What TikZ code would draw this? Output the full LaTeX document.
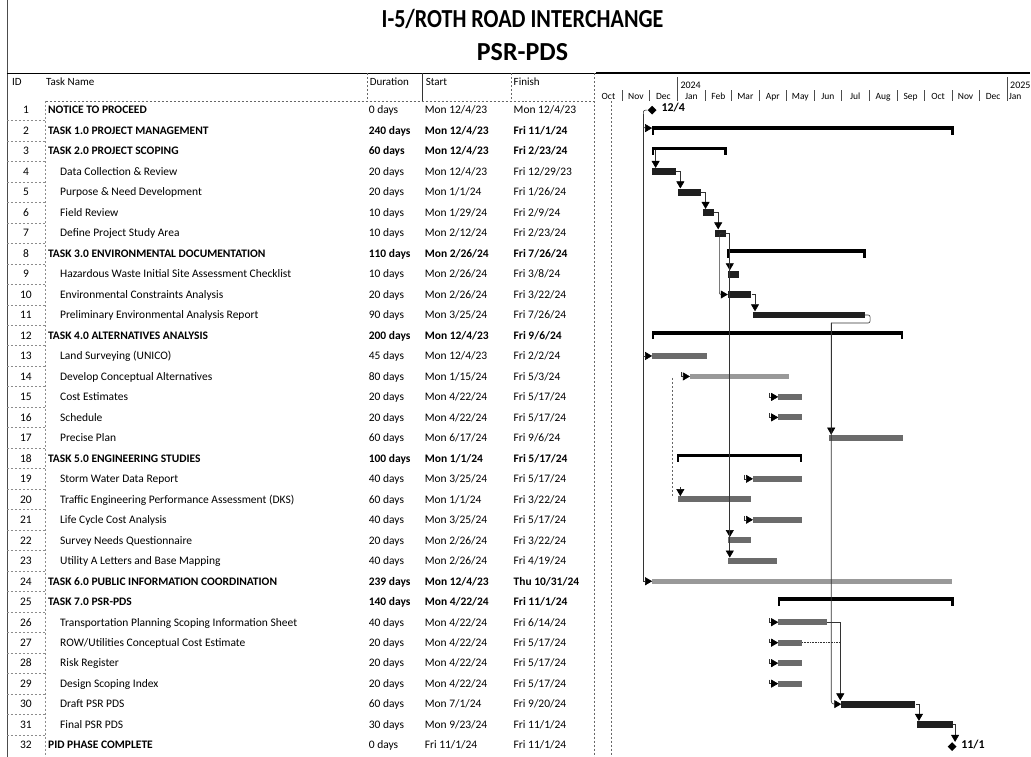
\documentclass[tikz,border=0pt]{standalone}
\usepackage{fontspec}
\setmainfont{Carlito}
\usetikzlibrary{arrows.meta,shapes.geometric,calc}
\newcommand\GBar[5]{%
  \pgfmathsetmacro\GBy{110+(#3-1)*20.5}%
  \pgfmathsetmacro\GBx{678+0.9016*(#4)}%
  \pgfmathsetmacro\GBw{0.9016*((#5)-(#4))}%
  \node[#2,minimum width=\GBw pt] (#1) at (\GBx,\GBy) {};}
\newcommand\SBar[4]{%
  \pgfmathsetmacro\GBy{110+(#2-1)*20.5-4.5}%
  \pgfmathsetmacro\GBx{678+0.9016*(#3)}%
  \pgfmathsetmacro\GBw{0.9016*((#4)-(#3))}%
  \node[sumbar,minimum width=\GBw pt] (#1) at (\GBx,\GBy) {};
  \fill ([xshift=-0.4pt]#1.north west) rectangle ++(2.4,8.5);
  \fill ([xshift=0.4pt]#1.north east) rectangle ++(-2.4,8.5);}
\newcommand\TRow[5]{%
  \pgfmathsetmacro\TRy{110+(#1-1)*20.5+3.8}%
  \node[idtxt] (id#1) at (26,\TRy) {#1};
  \node[txt] (nm#1) at (60,\TRy) {#2};
  \node[txt] (du#1) at (369,\TRy) {#3};
  \node[txt] (st#1) at (425,\TRy) {#4};
  \node[txt] (fi#1) at (514,\TRy) {#5};}
\newcommand\SRow[5]{%
  \pgfmathsetmacro\TRy{110+(#1-1)*20.5+3.8}%
  \node[idtxt] (id#1) at (26,\TRy) {#1};
  \node[btxt] (nm#1) at (48,\TRy) {#2};
  \node[btxt] (du#1) at (369,\TRy) {#3};
  \node[btxt] (st#1) at (425,\TRy) {#4};
  \node[btxt] (fi#1) at (514,\TRy) {#5};}
\newcommand\MRow[5]{%
  \pgfmathsetmacro\TRy{110+(#1-1)*20.5+3.8}%
  \node[idtxt] (id#1) at (26,\TRy) {#1};
  \node[btxt] (nm#1) at (48,\TRy) {#2};
  \node[txt] (du#1) at (369,\TRy) {#3};
  \node[txt] (st#1) at (425,\TRy) {#4};
  \node[txt] (fi#1) at (514,\TRy) {#5};}
\begin{document}
\begin{tikzpicture}[x=1pt,y=-1pt,
  txt/.style={anchor=base west,inner sep=0pt,font=\fontsize{11.5}{13}\selectfont},
  btxt/.style={anchor=base west,inner sep=0pt,font=\fontsize{11.5}{13}\selectfont\bfseries},
  idtxt/.style={anchor=base,inner sep=0pt,font=\fontsize{11.5}{13}\selectfont},
  hdr/.style={anchor=base west,inner sep=0pt,font=\fontsize{11}{13}\selectfont},
  mon/.style={anchor=base,inner sep=0pt,font=\fontsize{9.5}{11}\selectfont},
  crit/.style={draw=none,fill=black!88,minimum height=7pt,inner sep=0pt,anchor=west},
  norm/.style={draw=none,fill=black!58,minimum height=6pt,inner sep=0pt,anchor=west},
  lite/.style={draw=none,fill=black!40,minimum height=5pt,inner sep=0pt,anchor=west},
  sumbar/.style={fill=black,minimum height=3.4pt,inner sep=0pt,anchor=north west},
  mile/.style={diamond,fill=black,inner sep=0pt,minimum size=9pt},
  link/.style={draw=black!80,line width=0.6pt},
  arr/.style={link,-{Triangle[width=8pt,length=7pt,fill=black,color=black]}},
  grid/.style={draw=black!60,line width=0.5pt,dash pattern=on 2pt off 2pt},
]
\fill[white] (0,0) rectangle (1031,757);
% title
\node[font=\fontsize{26}{28}\selectfont\bfseries,inner sep=0pt] (title) at (523,19) {\scalebox{0.85}[1]{I-5/ROTH ROAD INTERCHANGE}};
\node[font=\fontsize{26}{28}\selectfont\bfseries,inner sep=0pt] (sub) at (523,52) {PSR-PDS};
% frame lines
\draw[black!70,line width=0.6pt] (7,0) -- (7,757);
\draw[line width=1.2pt] (7,73) -- (597,73);
\draw[line width=2pt] (597,73) -- (1031,73);
\draw[grid] (368,73) -- (368,101);
\draw[black!80,line width=0.6pt] (423,73) -- (423,101);
\draw[grid] (512,73) -- (512,101);
\draw[grid] (46,101) -- (597,101);
\draw[grid] (595,73) -- (595,757);
\draw[grid] (612,101) -- (612,757);
\draw[grid,draw=black!45] (45,101) -- (45,757);
\foreach \i in {1,...,31} \draw[grid,draw=black!45] (7,{110+(\i-0.5)*20.5}) -- (45,{110+(\i-0.5)*20.5});
% header
\node[hdr] (hid) at (12,85.5) {ID};
\node[hdr] (htn) at (46,85.5) {Task Name};
\node[hdr] (hdu) at (370,85.5) {Duration};
\node[hdr] (hst) at (426,85.5) {Start};
\node[hdr] (hfi) at (514,85.5) {Finish};
% timescale
\node[anchor=base west,inner sep=0pt,font=\fontsize{10}{12}\selectfont] (y24) at (681,88) {2024};
\node[anchor=base west,inner sep=0pt,font=\fontsize{10}{12}\selectfont] (y25) at (1011,88) {2025};
\draw[black!70,line width=0.5pt] ({678},77) -- ({678},101);
\draw[black!70,line width=0.5pt] ({678+0.9016*366},77) -- ({678+0.9016*366},101);
\foreach \d in {-61,-31,31,60,91,121,152,182,213,244,274,305,335}
  \draw[black!70,line width=0.5pt] ({678+0.9016*\d},90) -- ({678+0.9016*\d},101);
\foreach \d/\m [count=\k] in {-76.5/Oct,-46/Nov,-15.5/Dec,15.5/Jan,45.5/Feb,75.5/Mar,106/Apr,136.5/May,167/Jun,197.5/Jul,228.5/Aug,259/Sep,289.5/Oct,320/Nov,350.5/Dec,375/Jan}
  \node[mon] (mo\k) at ({678+0.9016*\d},99) {\m};
% table rows
\MRow{1}{NOTICE TO PROCEED}{0 days}{Mon 12/4/23}{Mon 12/4/23}
\SRow{2}{TASK 1.0 PROJECT MANAGEMENT}{240 days}{Mon 12/4/23}{Fri 11/1/24}
\SRow{3}{TASK 2.0 PROJECT SCOPING}{60 days}{Mon 12/4/23}{Fri 2/23/24}
\TRow{4}{Data Collection \& Review}{20 days}{Mon 12/4/23}{Fri 12/29/23}
\TRow{5}{Purpose \& Need Development}{20 days}{Mon 1/1/24}{Fri 1/26/24}
\TRow{6}{Field Review}{10 days}{Mon 1/29/24}{Fri 2/9/24}
\TRow{7}{Define Project Study Area}{10 days}{Mon 2/12/24}{Fri 2/23/24}
\SRow{8}{TASK 3.0 ENVIRONMENTAL DOCUMENTATION}{110 days}{Mon 2/26/24}{Fri 7/26/24}
\TRow{9}{Hazardous Waste Initial Site Assessment Checklist}{10 days}{Mon 2/26/24}{Fri 3/8/24}
\TRow{10}{Environmental Constraints Analysis}{20 days}{Mon 2/26/24}{Fri 3/22/24}
\TRow{11}{Preliminary Environmental Analysis Report}{90 days}{Mon 3/25/24}{Fri 7/26/24}
\SRow{12}{TASK 4.0 ALTERNATIVES ANALYSIS}{200 days}{Mon 12/4/23}{Fri 9/6/24}
\TRow{13}{Land Surveying (UNICO)}{45 days}{Mon 12/4/23}{Fri 2/2/24}
\TRow{14}{Develop Conceptual Alternatives}{80 days}{Mon 1/15/24}{Fri 5/3/24}
\TRow{15}{Cost Estimates}{20 days}{Mon 4/22/24}{Fri 5/17/24}
\TRow{16}{Schedule}{20 days}{Mon 4/22/24}{Fri 5/17/24}
\TRow{17}{Precise Plan}{60 days}{Mon 6/17/24}{Fri 9/6/24}
\SRow{18}{TASK 5.0 ENGINEERING STUDIES}{100 days}{Mon 1/1/24}{Fri 5/17/24}
\TRow{19}{Storm Water Data Report}{40 days}{Mon 3/25/24}{Fri 5/17/24}
\TRow{20}{Traffic Engineering Performance Assessment (DKS)}{60 days}{Mon 1/1/24}{Fri 3/22/24}
\TRow{21}{Life Cycle Cost Analysis}{40 days}{Mon 3/25/24}{Fri 5/17/24}
\TRow{22}{Survey Needs Questionnaire}{20 days}{Mon 2/26/24}{Fri 3/22/24}
\TRow{23}{Utility A Letters and Base Mapping}{40 days}{Mon 2/26/24}{Fri 4/19/24}
\SRow{24}{TASK 6.0 PUBLIC INFORMATION COORDINATION}{239 days}{Mon 12/4/23}{Thu 10/31/24}
\SRow{25}{TASK 7.0 PSR-PDS}{140 days}{Mon 4/22/24}{Fri 11/1/24}
\TRow{26}{Transportation Planning Scoping Information Sheet}{40 days}{Mon 4/22/24}{Fri 6/14/24}
\TRow{27}{ROW/Utilities Conceptual Cost Estimate}{20 days}{Mon 4/22/24}{Fri 5/17/24}
\TRow{28}{Risk Register}{20 days}{Mon 4/22/24}{Fri 5/17/24}
\TRow{29}{Design Scoping Index}{20 days}{Mon 4/22/24}{Fri 5/17/24}
\TRow{30}{Draft PSR PDS}{60 days}{Mon 7/1/24}{Fri 9/20/24}
\TRow{31}{Final PSR PDS}{30 days}{Mon 9/23/24}{Fri 11/1/24}
\MRow{32}{PID PHASE COMPLETE}{0 days}{Fri 11/1/24}{Fri 11/1/24}
% summary bars
\SBar{b2}{2}{-28}{306}
\SBar{b3}{3}{-28}{54}
\SBar{b8}{8}{56}{208}
\SBar{b12}{12}{-28}{250}
\SBar{b18}{18}{0}{138}
\SBar{b25}{25}{112}{306}
% task bars
\GBar{b4}{crit}{4}{-28}{-2}
\GBar{b5}{crit}{5}{0}{26}
\GBar{b6}{crit}{6}{28}{40}
\GBar{b7}{crit}{7}{42}{54}
\GBar{b9}{crit}{9}{56}{68}
\GBar{b10}{crit}{10}{56}{82}
\GBar{b11}{crit}{11}{84}{208}
\GBar{b13}{norm}{13}{-28}{33}
\GBar{b14}{lite}{14}{14}{124}
\GBar{b15}{norm}{15}{112}{138}
\GBar{b16}{norm}{16}{112}{138}
\GBar{b17}{norm}{17}{168}{250}
\GBar{b19}{norm}{19}{84}{138}
\GBar{b20}{norm}{20}{0}{82}
\GBar{b21}{norm}{21}{84}{138}
\GBar{b22}{norm}{22}{56}{82}
\GBar{b23}{norm}{23}{56}{110}
\GBar{b24}{lite}{24}{-28}{305}
\GBar{b26}{norm}{26}{112}{166}
\GBar{b27}{norm}{27}{112}{138}
\GBar{b28}{norm}{28}{112}{138}
\GBar{b29}{norm}{29}{112}{138}
\GBar{b30}{crit}{30}{182}{264}
\GBar{b31}{crit}{31}{266}{306}
% milestones
\node[mile] (m1) at ({678+0.9016*(-28)},110) {};
\node[anchor=west,inner sep=0pt,font=\fontsize{12}{13}\selectfont\bfseries] (l1) at (662,107) {12/4};
\node[mile] (m32) at (953,747) {};
\node[anchor=west,inner sep=0pt,font=\fontsize{12}{13}\selectfont\bfseries] (l32) at (962,745) {11/1};
% links
\coordinate (v1) at (644,114);
\draw[arr,rounded corners=2pt] (m1.west) -| (v1) |- (b2.west);
\draw[arr] (v1) |- (b13.west);
\draw[arr] (v1) |- (b24.west);
\draw[arr] ([xshift=3.5pt]b3.south west) -- ([xshift=3.5pt]b4.north west);
\draw[arr] (b4.east) -| ([xshift=3pt]b5.north west);
\draw[arr] (b5.east) -| ([xshift=3pt]b6.north west);
\draw[arr] (b6.east) -| ([xshift=3pt]b7.north west);
\draw[arr] (b7.east) -| ([xshift=2pt]b9.north west);
\draw[arr] (b7.east) -| ([xshift=2pt]b22.north west);
\draw[arr] (b7.east) -| ([xshift=2pt]b23.north west);
\coordinate (h10) at (720,272);
\draw[arr,rounded corners=2pt] (b7.east) -| (h10) |- (b10.west);
\draw[arr] (b10.east) -| ([xshift=2pt]b11.north west);
\foreach \b in {14,15,16,19,21,26,27,28,29}{
  \coordinate (a\b) at ($(b\b.west)+(-9,-4)$);
  \draw[arr] (a\b) |- (b\b.west);}
\coordinate (t20) at (673,378);
\draw[grid] (t20) -- (t20 |- b20.north);
\draw[arr] ([xshift=3pt,yshift=9pt]b20.north west) -- ([xshift=3pt]b20.north west);
\coordinate (c11) at (832,323);
\draw[link,rounded corners=2pt] (b11.east) -- ++(5,0) |- (c11);
\draw[arr] (c11) -- (c11 |- b17.north);
\draw[arr,rounded corners=3pt] (c11) |- (b30.west);
\draw[arr] (b26.east) -| ([xshift=-1pt]b30.north west);
\draw[link,densely dotted] (b27.east) -- (b27.east -| b30.north west);
\draw[arr] (b30.east) -| ([xshift=2pt]b31.north west);
\draw[arr] (b31.east) -| ([xshift=3pt]m32.north);
\end{tikzpicture}
\end{document}
